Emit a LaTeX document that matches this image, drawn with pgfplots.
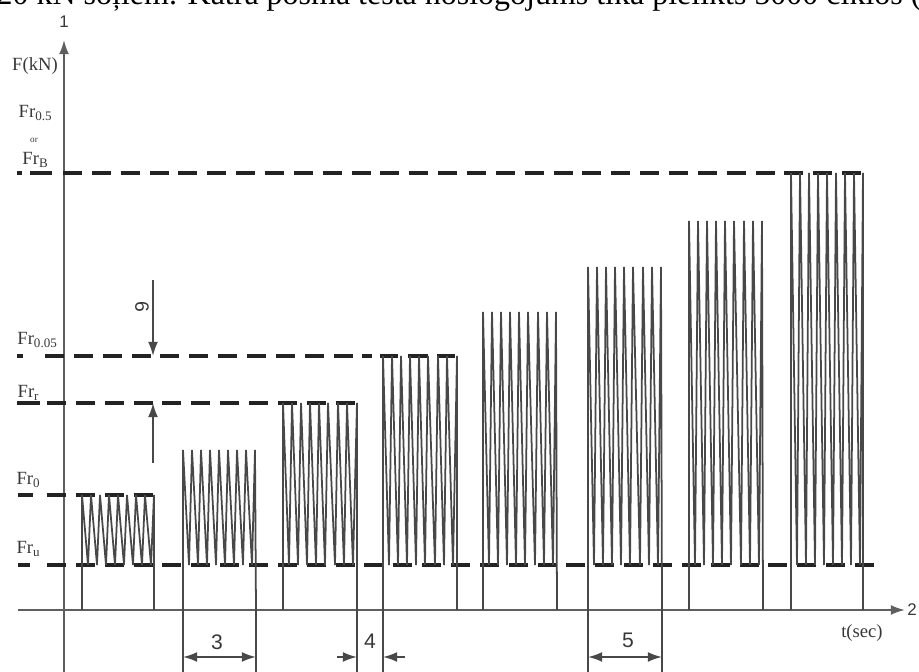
\documentclass[border=0pt]{standalone}
\usepackage{fontspec}
\setmainfont{Liberation Serif}
\newfontfamily\sansf{Liberation Sans}
\usepackage{pgfplots}
\pgfplotsset{compat=1.18}
\usetikzlibrary{arrows.meta}
\definecolor{wave}{RGB}{72,72,72}
\definecolor{dashc}{RGB}{35,35,35}
\definecolor{axc}{RGB}{95,95,95}
\definecolor{txt}{RGB}{55,55,55}
\tikzset{
  wv/.style={wave,line width=0.5pt,line join=miter},
  dl/.style={dashc,line width=1.0pt,dash pattern=on 5.41pt off 2.8pt},
  sd/.style={dashc,line width=1.0pt},
  ax/.style={axc,line width=0.55pt},
  tip/.style={-{Latex[length=4pt,width=2.8pt]}},
  lbl/.style={text=txt,inner sep=0pt,font=\fontsize{5.3}{6}\selectfont},
  num/.style={text=txt,inner sep=0pt,font=\sansf\fontsize{6}{7}\selectfont},
}
\begin{document}
\begin{tikzpicture}
\begin{axis}[width=9.19cm,height=6.72cm,scale only axis,
  xmin=0,xmax=919,ymin=0,ymax=672,hide axis,clip=false]
% --- top cropped text line
\node[anchor=base west,inner sep=0pt,font=\fontsize{9.1}{10}\selectfont] at (axis cs:-4,667)
  {20 kN soļiem. Katra posma testa noslogojums tika pielikts 5000 ciklos (};
% --- axes
\addplot[ax,tip] coordinates {(64,0) (64,632)};
\addplot[ax,tip] coordinates {(18,62) (905,62)};
% --- reference force levels (dashed)
\addplot[sd] coordinates {(18,107) (30,107)};
\addplot[dl] coordinates {(47,107) (877,107)};
\addplot[sd] coordinates {(18,177) (33,177)};
\addplot[dl] coordinates {(47,177) (154,177)};
\addplot[sd] coordinates {(17,269) (40,269)};
\addplot[dl] coordinates {(47,269) (357,269)};
\addplot[sd] coordinates {(17,316) (23,316)};
\addplot[dl] coordinates {(45,316) (372,316)};
\addplot[sd] coordinates {(380,316) (398,316)};
\addplot[sd] coordinates {(408,316) (428,316)};
\addplot[sd] coordinates {(437,316) (455,316)};
\addplot[sd] coordinates {(17,499) (22,499)};
\addplot[sd] coordinates {(30,499) (52,499)};
\addplot[dl] coordinates {(63,499) (863,499)};
% --- load blocks
\addplot[wv] coordinates {(82,62)(82,177)(88,107)(91,177)(97,107)(100,177)(106,107)(109,177)(115,107)(118,177)(124,107)(127,177)(133,107)(136,177)(142,107)(145,177)(151,107)(154,177)(154,62)};
\addplot[wv] coordinates {(183,62)(183,222)(189,107)(192,222)(198,107)(201,222)(207,107)(210,222)(216,107)(219,222)(225,107)(228,222)(234,107)(237,222)(243,107)(246,222)(252,107)(255,222)(256,62)};
\addplot[wv] coordinates {(283,62)(283,269)(289,107)(292,269)(298,107)(301,269)(307,107)(310,269)(316,107)(319,269)(325,107)(328,269)(335,107)(338,269)(344,107)(347,269)(353,107)(357,269)(357,62)};
\addplot[wv] coordinates {(383,62)(383,316)(389,107)(392,316)(398,107)(401,316)(407,107)(410,316)(416,107)(419,316)(425,107)(428,316)(435,107)(438,316)(444,107)(447,316)(453,107)(457,316)(457,62)};
\addplot[wv] coordinates {(483,62)(483,360)(489,107)(492,360)(498,107)(501,360)(507,107)(510,360)(516,107)(519,360)(525,107)(528,360)(535,107)(538,360)(544,107)(547,360)(553,107)(556,360)(557,62)};
\addplot[wv] coordinates {(588,62)(588,405)(594,107)(597,405)(603,107)(606,405)(612,107)(615,405)(621,107)(624,405)(630,107)(633,405)(640,107)(643,405)(649,107)(652,405)(658,107)(661,405)(662,62)};
\addplot[wv] coordinates {(689,62)(689,451)(695,107)(698,451)(704,107)(707,451)(713,107)(716,451)(722,107)(725,451)(731,107)(734,451)(741,107)(744,451)(750,107)(753,451)(759,107)(762,451)(763,62)};
\addplot[wv] coordinates {(791,62)(791,499)(797,107)(800,499)(806,107)(809,499)(815,107)(818,499)(824,107)(827,499)(833,107)(836,499)(842,107)(845,499)(851,107)(854,499)(860,107)(863,499)(863,62)};
% --- extension lines
\addplot[wv] coordinates {(183,62)(183,0)};
\addplot[wv] coordinates {(256,62)(256,0)};
\addplot[wv] coordinates {(357,62)(357,0)};
\addplot[wv] coordinates {(383,62)(383,0)};
\addplot[wv] coordinates {(588,62)(588,0)};
\addplot[wv] coordinates {(662,62)(662,0)};
% --- dimension arrows
\addplot[wv,tip] coordinates {(153,392)(153,316)};
\addplot[wv,tip] coordinates {(153,209)(153,269)};
\addplot[wv,{Latex[length=4pt,width=2.8pt]}-{Latex[length=4pt,width=2.8pt]}] coordinates {(183,15)(256,15)};
\addplot[wv,tip] coordinates {(337,15)(357,15)};
\addplot[wv,tip] coordinates {(405,15)(383,15)};
\addplot[wv,{Latex[length=4pt,width=2.8pt]}-{Latex[length=4pt,width=2.8pt]}] coordinates {(588,15)(662,15)};
% --- labels
\node[num,font=\sansf\fontsize{4.8}{6}\selectfont] at (axis cs:64,650) {1};
\node[num,font=\sansf\fontsize{4.8}{6}\selectfont] at (axis cs:912,62) {2};
\node[num] at (axis cs:217,30) {3};
\node[num] at (axis cs:370,31) {4};
\node[num] at (axis cs:628,32) {5};
\node[num,rotate=-90,font=\sansf\fontsize{5.5}{6}\selectfont] at (axis cs:142,365) {6};
\node[lbl] at (axis cs:35,606) {F(kN)};
\node[lbl] at (axis cs:36,559) {Fr\textsubscript{0.5}};
\node[lbl,font=\fontsize{2.6}{3}\selectfont] at (axis cs:34,532) {or};
\node[lbl] at (axis cs:36,512) {Fr\textsubscript{B}};
\node[lbl] at (axis cs:38,332) {Fr\textsubscript{0.05}};
\node[lbl] at (axis cs:29,279) {Fr\textsubscript{r}};
\node[lbl] at (axis cs:29,192) {Fr\textsubscript{0}};
\node[lbl] at (axis cs:29,123) {Fr\textsubscript{u}};
\node[lbl] at (axis cs:862,39) {t(sec)};
\end{axis}
\pgfresetboundingbox
\useasboundingbox (current axis.south west) rectangle (current axis.north east);
\end{tikzpicture}
\end{document}
